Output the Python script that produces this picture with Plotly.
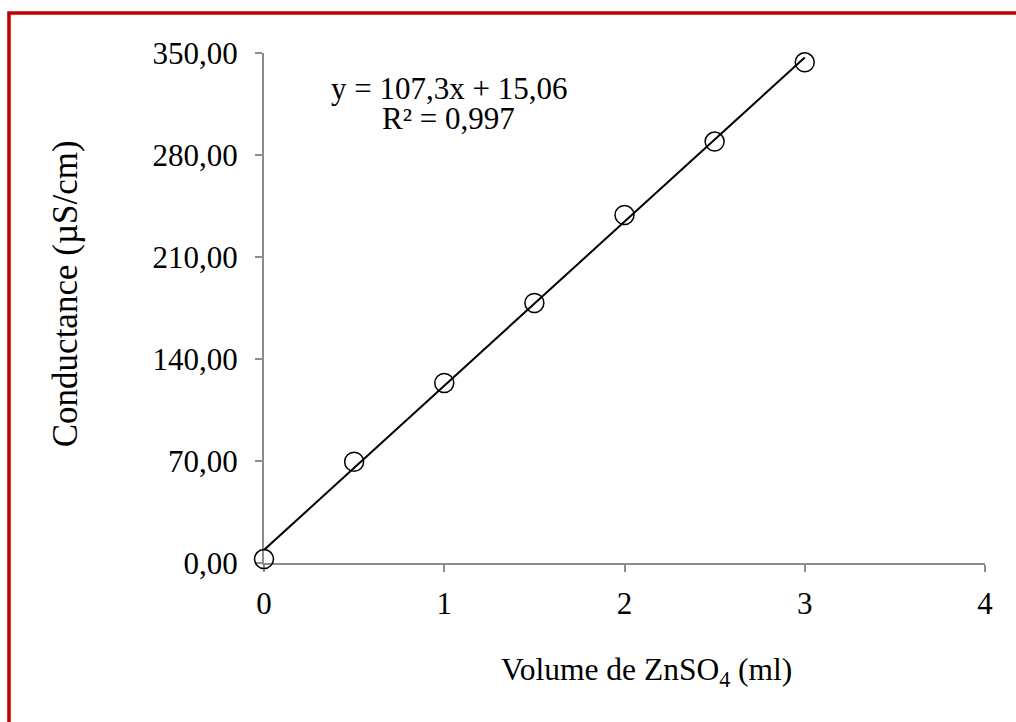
import numpy as np
import plotly.graph_objects as go

# Conductance measured after each ZnSO4 addition
volume_ml = [0, 0.5, 1, 1.5, 2, 2.5, 3]
conductance = [2.7, 69.5, 123.5, 178.4, 238.8, 289.2, 343.6]

y_tick_vals = [0, 70, 140, 210, 280, 350]
y_tick_text = ["0,00", "70,00", "140,00", "210,00", "280,00", "350,00"]
x_tick_vals = [0, 1, 2, 3, 4]
x_tick_text = ["0", "1", "2", "3", "4"]

equation_text = "y = 107,3x + 15,06"
r2_text = "R² = 0,997"

FONT = "Liberation Serif, Times New Roman, serif"
FS = 31
AXIS_GREY = "#8c8c8c"

# Linear trend line across the measured range
slope, intercept = np.polyfit(volume_ml, conductance, 1)
fit_x = np.array([min(volume_ml), max(volume_ml)])
fit_y = slope * fit_x + intercept

fig = go.Figure()
fig.add_trace(go.Scatter(
    x=fit_x, y=fit_y, mode="lines",
    line=dict(color="black", width=2),
    hoverinfo="skip", showlegend=False, cliponaxis=False,
))
fig.add_trace(go.Scatter(
    x=volume_ml, y=conductance, mode="markers",
    marker=dict(symbol="circle-open", size=19, color="black",
                line=dict(color="black", width=1.5)),
    showlegend=False, cliponaxis=False,
))

axis_common = dict(
    showgrid=False, zeroline=False, showline=True,
    linecolor=AXIS_GREY, linewidth=2,
    ticks="outside", ticklen=7, tickwidth=2, tickcolor=AXIS_GREY,
    tickfont=dict(family=FONT, size=FS, color="black"),
    tickmode="array", layer="below traces",
)

fig.update_layout(
    width=1016, height=722, autosize=False,
    margin=dict(l=264, r=31, t=53, b=159),
    paper_bgcolor="white", plot_bgcolor="white",
    font=dict(family=FONT, size=FS, color="black"),
    xaxis=dict(range=[0, 4], tickvals=x_tick_vals, ticktext=x_tick_text,
               ticklabelstandoff=5, **axis_common),
    yaxis=dict(range=[0, 350], tickvals=y_tick_vals, ticktext=y_tick_text,
               ticklabelstandoff=11, **axis_common),
    showlegend=False,
)

# Trend line equation and coefficient of determination
fig.add_annotation(x=1.026, y=325.5, xref="x", yref="y", text=equation_text,
                   showarrow=False, xanchor="center", yanchor="middle",
                   font=dict(family=FONT, size=FS, color="black"))
fig.add_annotation(x=1.026, y=305.0, xref="x", yref="y", text=r2_text,
                   showarrow=False, xanchor="center", yanchor="middle",
                   font=dict(family=FONT, size=FS, color="black"))

# Axis titles
fig.add_annotation(x=-0.276, y=0.527, xref="paper", yref="paper",
                   text="Conductance (µS/cm)", textangle=-90,
                   showarrow=False, xanchor="center", yanchor="middle",
                   font=dict(family=FONT, size=35, color="black"))
fig.add_annotation(x=0.531, y=-0.2137, xref="paper", yref="paper",
                   text="Volume de ZnSO<sub>4</sub> (ml)",
                   showarrow=False, xanchor="center", yanchor="middle",
                   font=dict(family=FONT, size=31.5, color="black"))

# Red frame around the chart (runs past the right and bottom edges)
fig.add_shape(type="rect", xref="paper", yref="paper",
              x0=-0.3537, y0=-1.0, x1=2.0, y1=1.0784,
              line=dict(color="#C00000", width=3.5), layer="below")

fig.write_html("out.html")
